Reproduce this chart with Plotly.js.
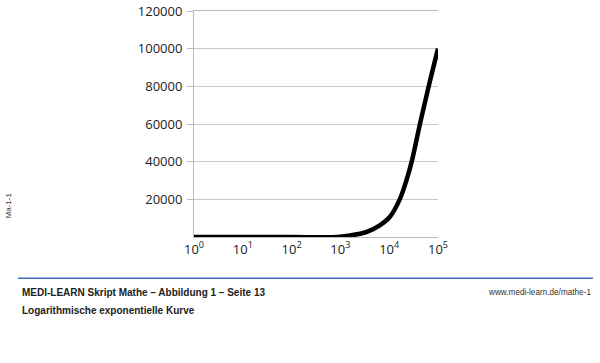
<!DOCTYPE html>
<html><head><meta charset="utf-8">
<script src="https://cdn.plot.ly/plotly-3.0.1.min.js"></script>
<style>html,body{margin:0;padding:0;background:#fff}#c{width:600px;height:363px}</style>
</head><body><div id="c"></div>
<script>
var xValues = [1, 10, 100, 1000, 3430, 6410, 10260, 16440, 22550, 28900, 42700, 64500, 100000];
var yValues = [0, 0, 0, 200, 2650, 6200, 10600, 20000, 30100, 40000, 60000, 80000, 100000];
var xTickVals = [1, 10, 100, 1000, 10000, 100000];
var xTickText = ['10<sup>0</sup>','10<sup>1</sup>','10<sup>2</sup>','10<sup>3</sup>','10<sup>4</sup>','10<sup>5</sup>'];
var yTickVals = [20000, 40000, 60000, 80000, 100000, 120000];
var footerTitle = 'MEDI-LEARN Skript Mathe – Abbildung 1 – Seite 13';
var footerSub = 'Logarithmische exponentielle Kurve';
var footerUrl = 'www.medi-learn.de/mathe-1';
var sideLabel = 'Ma-1-1';

var trace = {x: xValues, y: yValues, type: 'scatter', mode: 'lines',
  line: {color: '#000', width: 4.5, shape: 'spline', smoothing: 1}, hoverinfo: 'skip', cliponaxis: false};

var ff = 'Liberation Sans Narrow, Arial Narrow, sans-serif';
var layout = {
  width: 600, height: 363, paper_bgcolor: '#fff', plot_bgcolor: '#fff',
  margin: {l: 194, r: 162, t: 11, b: 126},
  showlegend: false,
  font: {family: 'Open Sans, sans-serif', color: '#222', size: 13},
  xaxis: {type: 'log', range: [0, 5], tickvals: xTickVals, ticktext: xTickText,
    showgrid: false, zeroline: false, showline: true, linecolor: '#bbb', linewidth: 1,
    mirror: true, ticks: '', tickfont: {size: 13, color: '#222'}},
  yaxis: {range: [0, 120000], tickvals: yTickVals, tickformat: 'd', showgrid: true, gridcolor: '#c8c8c8',
    gridwidth: 1, zeroline: false, showline: true, linecolor: '#bbb', ticks: 'outside',
    ticklen: 6, tickcolor: '#bbb', tickfont: {size: 13, color: '#222'}, ticklabelstandoff: 2},
  shapes: [{type: 'line', xref: 'paper', yref: 'paper', x0: -0.721, x1: 1.635,
    y0: -0.183, y1: -0.183, line: {color: '#3d6fb6', width: 1.5}}],
  annotations: [
    {text: '<b>' + footerTitle + '</b>', xref: 'paper', yref: 'paper', x: -0.715, y: -0.245,
      xanchor: 'left', yanchor: 'middle', showarrow: false,
      font: {family: ff, size: 10, color: '#222'}},
    {text: '<b>' + footerSub + '</b>', xref: 'paper', yref: 'paper', x: -0.715, y: -0.324,
      xanchor: 'left', yanchor: 'middle', showarrow: false,
      font: {family: ff, size: 10, color: '#222'}},
    {text: footerUrl, xref: 'paper', yref: 'paper', x: 1.635, y: -0.245,
      xanchor: 'right', yanchor: 'middle', showarrow: false,
      font: {family: ff, size: 8.2, color: '#333'}},
    {text: sideLabel, xref: 'paper', yref: 'paper', x: -0.762, y: 0.14, textangle: -90,
      xanchor: 'center', yanchor: 'middle', showarrow: false,
      font: {family: ff, size: 8, color: '#333'}}
  ]
};
Plotly.newPlot('c', [trace], layout, {staticPlot: true, displayModeBar: false});
</script></body></html>
